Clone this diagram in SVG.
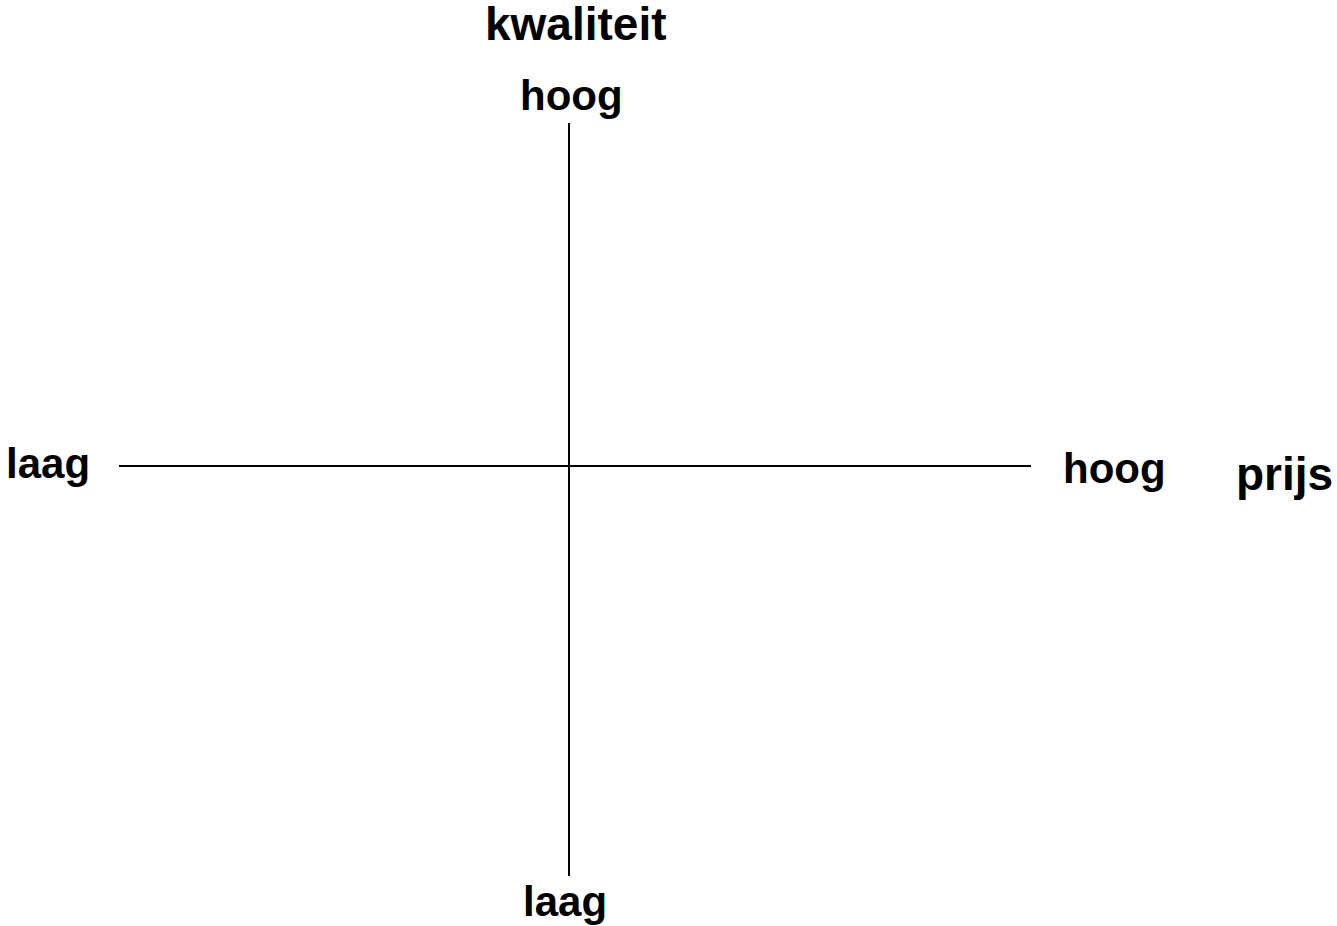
<svg xmlns="http://www.w3.org/2000/svg" width="1337" height="926" viewBox="0 0 1337 926">
<style>
text{font-family:"Liberation Sans",Arial,sans-serif;font-weight:bold;fill:#000}
.t{font-size:46px}
.l{font-size:42px}
.ax{stroke:#000;stroke-width:2;fill:none}
</style>
<rect width="1337" height="926" fill="#fff"/>
<g id="connectors">
<line class="ax" x1="569" y1="123" x2="569" y2="876"/>
<line class="ax" x1="119" y1="466" x2="1031" y2="466"/>
</g>
<g id="title-kwaliteit"><text class="t" x="485" y="40">kwaliteit</text></g>
<g id="label-hoog-top"><text class="l" x="520" y="110">hoog</text></g>
<g id="label-laag-left"><text class="l" x="6" y="478">laag</text></g>
<g id="label-hoog-right"><text class="l" x="1063" y="483">hoog</text></g>
<g id="title-prijs"><text class="t" x="1236" y="490">prijs</text></g>
<g id="label-laag-bottom"><text class="l" x="523" y="916">laag</text></g>
</svg>
